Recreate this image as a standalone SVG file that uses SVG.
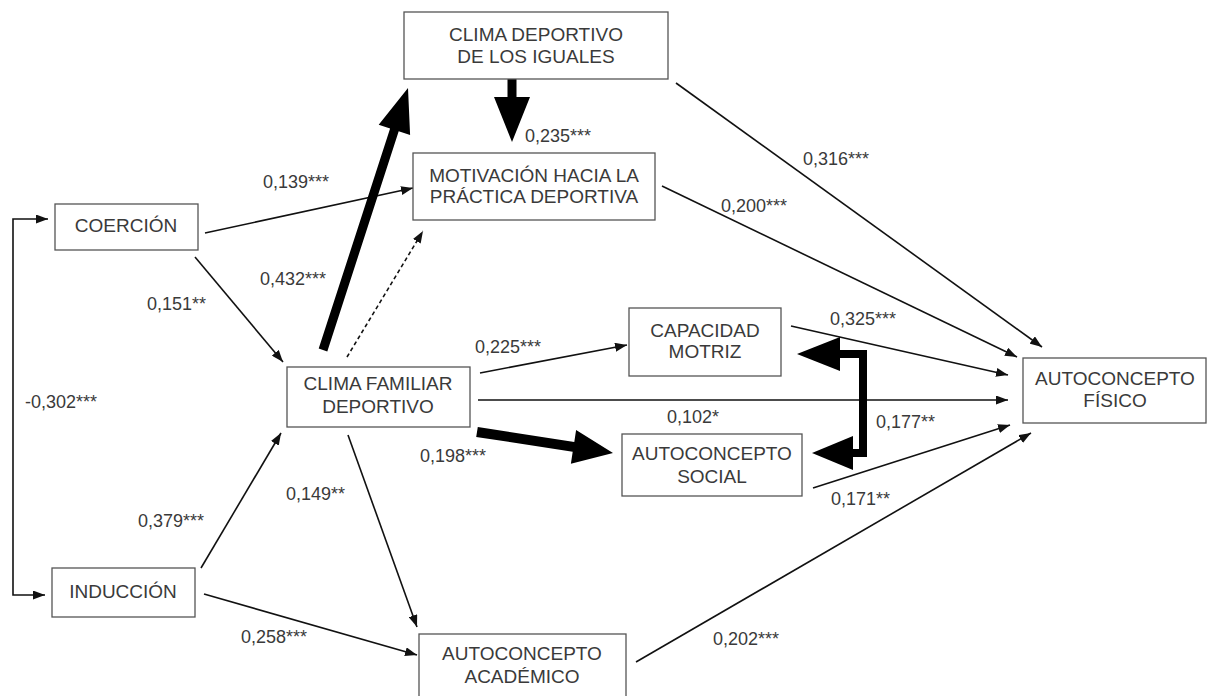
<svg xmlns="http://www.w3.org/2000/svg" width="1209" height="696" viewBox="0 0 1209 696">
<defs>
<marker id="ah" markerUnits="userSpaceOnUse" markerWidth="13" markerHeight="9" refX="12" refY="4.5" orient="auto-start-reverse">
<path d="M0,0 L12,4.5 L0,9 z" fill="#111"/>
</marker>
<style>
.box{fill:#fff;stroke:#555;stroke-width:1.3}
.t{font-family:"Liberation Sans",Arial,sans-serif;font-size:19px;fill:#3a3a3a;text-anchor:middle}
.l{font-family:"Liberation Sans",Arial,sans-serif;font-size:18px;fill:#3a3a3a}
.c{fill:none;stroke:#111;stroke-width:1.6;marker-end:url(#ah)}
.thick{fill:#000;stroke:none}
</style>
</defs>
<rect width="1209" height="696" fill="#fff"/>
<g id="connectors">
<path class="c" d="M205,233 L413,188"/>
<path class="c" d="M195,257 L283,362"/>
<path class="c" d="M347,357 L423,231" stroke-dasharray="4,3"/>
<path class="c" d="M676,83 L1042,347"/>
<path class="c" d="M662,186 L1017,357"/>
<path class="c" d="M791,326 L1008,375"/>
<path class="c" d="M478,400 L1008,400"/>
<path class="c" d="M813,488 L1010,425"/>
<path class="c" d="M636,662 L1031,433"/>
<path class="c" d="M480,373 L627,345"/>
<path class="c" d="M201,568 L281,433"/>
<path class="c" d="M348,435 L417,627"/>
<path class="c" d="M204,594 L417,655"/>
<path class="c" d="M48,219 H13 V595 H45" style="marker-start:url(#ah)"/>
<polygon class="thick" points="318.7,348.6 390.1,128.5 378.7,124.8 408,88 410.1,135 398.7,131.3 327.3,351.4"/>
<polygon class="thick" points="507.5,79 507.5,97 494,97 512,142 530,97 516.5,97 516.5,79"/>
<polygon class="thick" points="477.8,427.1 574.3,442 576.1,430.1 613,453 570.9,463.7 572.7,451.8 476.2,436.9"/>
<polyline points="838,354 863,354 863,453 851,453" fill="none" stroke="#000" stroke-width="8"/>
<polygon class="thick" points="797,354 840,337 840,371"/>
<polygon class="thick" points="812,453 853,436 853,470"/>
<text class="l" x="263" y="188">0,139***</text>
<text class="l" x="525" y="142">0,235***</text>
<text class="l" x="260" y="285">0,432***</text>
<text class="l" x="147" y="310">0,151**</text>
<text class="l" x="25" y="408">-0,302***</text>
<text class="l" x="803" y="165">0,316***</text>
<text class="l" x="721" y="212">0,200***</text>
<text class="l" x="830" y="325">0,325***</text>
<text class="l" x="475" y="353">0,225***</text>
<text class="l" x="667" y="423">0,102*</text>
<text class="l" x="876" y="428">0,177**</text>
<text class="l" x="831" y="505">0,171**</text>
<text class="l" x="420" y="462">0,198***</text>
<text class="l" x="286" y="500">0,149**</text>
<text class="l" x="138" y="527">0,379***</text>
<text class="l" x="241" y="643">0,258***</text>
<text class="l" x="713" y="645">0,202***</text>
</g>
<g id="node-iguales">
<rect class="box" x="404" y="12" width="264" height="67"/>
<text class="t" x="536" y="41">CLIMA DEPORTIVO</text>
<text class="t" x="536" y="63">DE LOS IGUALES</text>
</g>
<g id="node-motivacion">
<rect class="box" x="413" y="153" width="242" height="67"/>
<text class="t" x="534" y="182">MOTIVACIÓN HACIA LA</text>
<text class="t" x="534" y="203">PRÁCTICA DEPORTIVA</text>
</g>
<g id="node-coercion">
<rect class="box" x="55" y="204" width="143" height="46"/>
<text class="t" x="126" y="232">COERCIÓN</text>
</g>
<g id="node-clima-familiar">
<rect class="box" x="287" y="367" width="183" height="60"/>
<text class="t" x="378" y="390">CLIMA FAMILIAR</text>
<text class="t" x="378" y="413">DEPORTIVO</text>
</g>
<g id="node-capacidad">
<rect class="box" x="629" y="308" width="152" height="68"/>
<text class="t" x="705" y="337">CAPACIDAD</text>
<text class="t" x="705" y="358">MOTRIZ</text>
</g>
<g id="node-social">
<rect class="box" x="622" y="434" width="180" height="62"/>
<text class="t" x="712" y="460">AUTOCONCEPTO</text>
<text class="t" x="712" y="483">SOCIAL</text>
</g>
<g id="node-induccion">
<rect class="box" x="52" y="568" width="143" height="49"/>
<text class="t" x="123" y="598">INDUCCIÓN</text>
</g>
<g id="node-academico">
<rect class="box" x="419" y="634" width="207" height="70"/>
<text class="t" x="522" y="660">AUTOCONCEPTO</text>
<text class="t" x="522" y="683">ACADÉMICO</text>
</g>
<g id="node-fisico">
<rect class="box" x="1023" y="358" width="183" height="65"/>
<text class="t" x="1115" y="385">AUTOCONCEPTO</text>
<text class="t" x="1115" y="407">FÍSICO</text>
</g>
</svg>
